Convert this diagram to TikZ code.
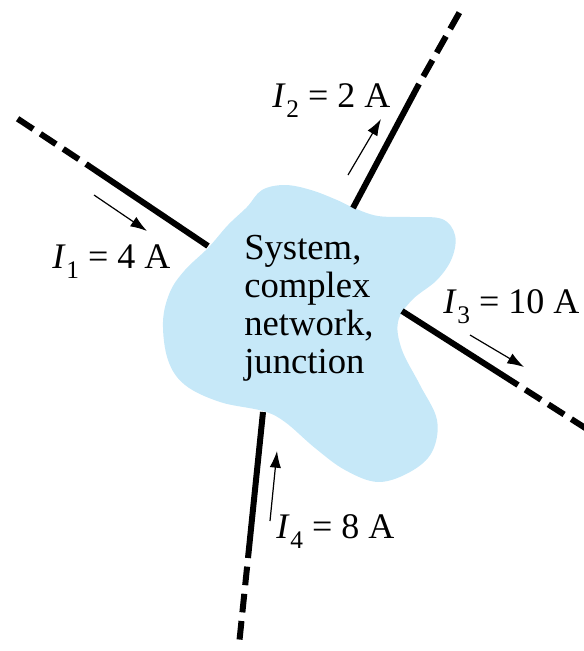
\documentclass[tikz,border=0pt]{standalone}
\usepackage{fontspec}
\setmainfont{Liberation Serif}
\usetikzlibrary{arrows.meta}
\definecolor{blobblue}{HTML}{C6E8F8}
\tikzset{
  wire/.style={line width=4.5pt},
  wiredash/.style={line width=4.5pt, dash pattern=on 14pt off 6.5pt, dash phase=14pt},
  curarrow/.style={line width=0.9pt, -{Latex[length=12.5pt,width=8.5pt]}},
  lbl/.style={anchor=base west, inner sep=0pt, font=\fontsize{27}{27}\selectfont},
}
\newcommand\cur[1]{\textit{I}\kern0.02em\raisebox{-0.28em}{\fontsize{19}{19}\selectfont #1}}
\begin{document}
\begin{tikzpicture}[x=0.75pt,y=-0.75pt]
\useasboundingbox (0,0) rectangle (584,651);
% blob
\path[fill=blobblue] plot[smooth cycle, tension=0.6] coordinates {
 (247,207) (262,190) (285,185) (311,190) (337,200) (354,208) (378,216) (410,217)
 (442,219) (455,235) (452,258) (437,280) (412,300) (398,322) (402,350) (420,385)
 (437,420) (432,452) (410,472) (378,482) (345,470) (315,448) (285,422) (263,411)
 (220,402) (185,385) (168,360) (163,322) (170,292) (185,270) (208,248) (228,225)};
\node[anchor=west, inner sep=0pt, align=left, font=\fontsize{27.5}{28.5}\selectfont] (sys) at (244,308)
  {System,\\complex\\network,\\junction};
% wire end points
\coordinate (w1in) at (208,246); \coordinate (w1t) at (86,164); \coordinate (w1out) at (15,117);
\coordinate (w2in) at (353,208); \coordinate (w2t) at (419,84); \coordinate (w2out) at (462,8);
\coordinate (w3in) at (402,311); \coordinate (w3t) at (518,385); \coordinate (w3out) at (590,431);
\coordinate (w4in) at (263,412); \coordinate (w4t) at (248,558); \coordinate (w4out) at (239,645);
\draw[wire] (w1in) -- (w1t);
\draw[wiredash] (w1t) -- (w1out);
\draw[wire] (w2in) -- (w2t);
\draw[wiredash] (w2t) -- (w2out);
\draw[wire] (w3in) -- (w3t);
\draw[wiredash] (w3t) -- (w3out);
\draw[wire] (w4in) -- (w4t);
\draw[wiredash] (w4t) -- (w4out);
% current arrows
\coordinate (a1s) at (94,195); \coordinate (a1e) at (147,231);
\coordinate (a2s) at (348,175); \coordinate (a2e) at (381,119);
\coordinate (a3s) at (470,335); \coordinate (a3e) at (524,367);
\coordinate (a4s) at (270,521); \coordinate (a4e) at (277,451);
\draw[curarrow] (a1s) -- (a1e);
\draw[curarrow] (a2s) -- (a2e);
\draw[curarrow] (a3s) -- (a3e);
\draw[curarrow] (a4s) -- (a4e);
% labels
\node[lbl] (l1) at (52,268) {\cur{1} = 4 A};
\node[lbl] (l2) at (272,107) {\cur{2} = 2 A};
\node[lbl] (l3) at (443,313) {\cur{3} = 10 A};
\node[lbl] (l4) at (276,538) {\cur{4} = 8 A};
\end{tikzpicture}
\end{document}
